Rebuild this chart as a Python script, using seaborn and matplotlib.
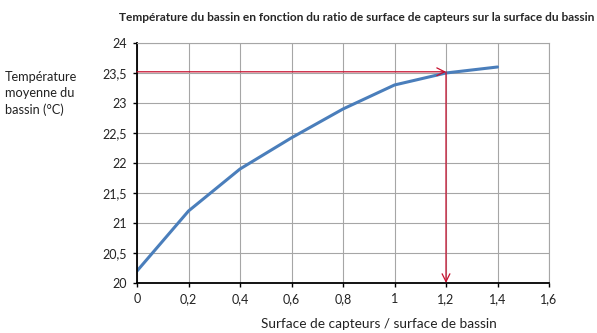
import matplotlib
matplotlib.use("Agg")
import matplotlib.pyplot as plt
import seaborn as sns
import pandas as pd

ratio = [0, 0.2, 0.4, 0.6, 0.8, 1.0, 1.2, 1.4]
temperature = [20.2, 21.2, 21.9, 22.42, 22.9, 23.3, 23.5, 23.6]
target_ratio = 1.2
target_temp = 23.52
xticks = [0, 0.2, 0.4, 0.6, 0.8, 1.0, 1.2, 1.4, 1.6]
yticks = [20, 20.5, 21, 21.5, 22, 22.5, 23, 23.5, 24]

def fr(v):
    s = ("%g" % v).replace(".", ",")
    return s

sns.set_theme(style="white")
plt.rcParams['font.family'] = ['Lato', 'DejaVu Sans']

df = pd.DataFrame({"ratio": ratio, "temp": temperature})
fig = plt.figure(figsize=(5.97, 3.33), dpi=100)
ax = fig.add_axes([0.2295, 0.1502, 0.9196 - 0.2295, 0.8709 - 0.1502])

sns.lineplot(data=df, x="ratio", y="temp", ax=ax, color="#4a7ebb", linewidth=2.2)

ax.set_xlim(0, 1.6)
ax.set_ylim(20, 24)
ax.set_xticks(xticks)
ax.set_yticks(yticks)
ax.set_xticklabels([fr(v) for v in xticks], fontsize=9)
ax.set_yticklabels([fr(v) for v in yticks], fontsize=9)
ax.grid(True, color="#a6a6a6", linewidth=0.8)
ax.set_axisbelow(True)
for s in ["top", "right"]:
    ax.spines[s].set_color("#a6a6a6")
    ax.spines[s].set_linewidth(0.8)
for s in ["left", "bottom"]:
    ax.spines[s].set_color("black")
    ax.spines[s].set_linewidth(1.3)
ax.tick_params(axis="both", which="both", direction="out", length=3, width=1,
               color="black", left=True, bottom=True, pad=4, labelcolor="#222222")
ax.set_xlabel("")
ax.set_ylabel("")

# red guide arrows
red = "#c8102e"
ax.annotate("", xy=(target_ratio, target_temp), xytext=(0, target_temp),
            arrowprops=dict(arrowstyle="->", color=red, lw=0.9,
                            shrinkA=0, shrinkB=0, mutation_scale=14))
ax.annotate("", xy=(target_ratio, 20), xytext=(target_ratio, target_temp),
            arrowprops=dict(arrowstyle="->", color=red, lw=0.9,
                            shrinkA=0, shrinkB=0, mutation_scale=14))

fig.text(0.597, 0.948, "Température du bassin en fonction du ratio de surface de capteurs sur la surface du bassin",
         ha="center", va="center", fontsize=8.6, fontweight="bold")
fig.text(0.008, 0.72, "Température\nmoyenne du\nbassin (°C)", ha="left", va="center",
         fontsize=9.2, linespacing=1.4, color="#222222")
fig.text(0.634, 0.027, "Surface de capteurs / surface de bassin", ha="center", va="center",
         fontsize=9.8, color="#222222")

fig.savefig("out.png", dpi=100)
